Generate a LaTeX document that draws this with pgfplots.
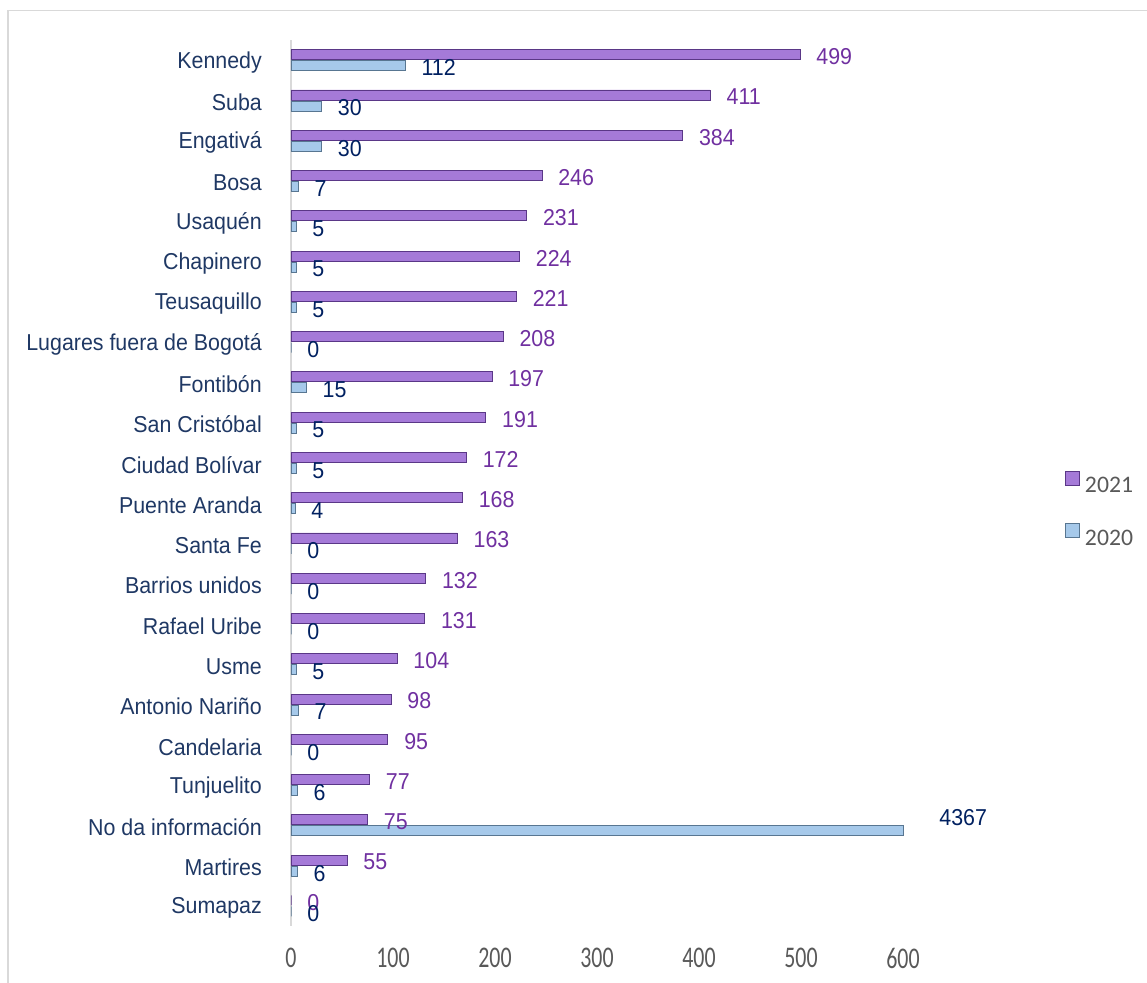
\documentclass[border=0pt]{standalone}
\usepackage{pgfplots}
\pgfplotsset{compat=1.18}
\usepackage{pgfplotstable}
\usepackage{fontspec}
\setmainfont{Liberation Sans}
\newfontfamily\catfont[FakeStretch=0.93]{Liberation Sans}
\newfontfamily\tickfont[FakeStretch=0.73]{Carlito}
\newfontfamily\legfont{Carlito}
\definecolor{catcol}{HTML}{1F3864}
\definecolor{lab21}{HTML}{7030A0}
\definecolor{lab20}{HTML}{002060}
\definecolor{p21}{HTML}{A57AD8}
\definecolor{p21edge}{HTML}{5A3787}
\definecolor{p20}{HTML}{A6C9EA}
\definecolor{p20edge}{HTML}{587691}
\definecolor{tickgray}{HTML}{595959}
\definecolor{axgray}{HTML}{D9D9D9}

\pgfplotstableread{
idx v21 v20 dx dy
0 499 112 0 0
1 411 30 0 0
2 384 30 0 0
3 246 7 0 0
4 231 5 0 0
5 224 5 0 0
6 221 5 0 0
7 208 0 0 0
8 197 15 0 0
9 191 5 0 0
10 172 5 0 0
11 168 4 0 0
12 163 0 0 0
13 132 0 0 0
14 131 0 0 0
15 104 5 0 0
16 98 7 0 0
17 95 0 0 0
18 77 6 0 0
19 75 4367 20 15
20 55 6 0 0
21 0 0 0 0
}\datatable

\begin{document}
\begin{tikzpicture}
\begin{axis}[
  scale only axis,
  width=612pt, height=886pt,
  xmin=0, xmax=600,
  ymin=-0.5, ymax=21.5,
  y dir=reverse,
  xbar, bar width=10pt,
  clip=false,
  axis lines*=left,
  x axis line style={draw=none},
  y axis line style={draw=axgray, line width=1.5pt, -},
  tick style={draw=none},
  major tick length=0pt,
  xtick={0,100,200,300,400,500,600},
  ytick={0,...,21},
  yticklabels={Kennedy,Suba,Engativá,Bosa,Usaquén,Chapinero,Teusaquillo,Lugares fuera de Bogotá,Fontibón,San Cristóbal,Ciudad Bolívar,Puente Aranda,Santa Fe,Barrios unidos,Rafael Uribe,Usme,Antonio Nariño,Candelaria,Tunjuelito,No da información,Martires,Sumapaz},
  yticklabel style={font=\catfont\fontsize{23}{27}\selectfont, text=catcol, inner sep=0pt, anchor=east, xshift=-29pt, yshift=-2pt},
  xticklabel style={font=\tickfont\fontsize{30}{34}\selectfont, text=tickgray, inner sep=0pt, anchor=north, yshift=-22pt},
  /pgf/number format/assume math mode=true,
  /pgf/number format/1000 sep={},
  nodes near coords,
  every node near coord/.append style={font=\catfont\fontsize{23}{27}\selectfont, anchor=west, inner sep=0pt, xshift=16pt, yshift=-2pt},
  legend style={draw=none, fill=none, inner sep=0pt, at={(1.2647,0.5139)}, anchor=north west,
     nodes={inner sep=0pt, font=\legfont\fontsize{23.7}{26}\selectfont, text=tickgray},
     row sep=29pt, column sep=5pt},
  legend cell align=left,
  legend image code/.code={\draw[#1, bar shift=0pt] (0pt,0.5pt) rectangle (14pt,14.5pt);},
]
\addplot[bar shift=5.5pt, fill=p21, draw=p21edge, line width=0.8pt,
  every node near coord/.append style={text=lab21}]
  table[x=v21, y=idx] {\datatable};
\addlegendentry{2021}
\addplot[bar shift=-5.5pt, fill=p20, draw=p20edge, line width=0.8pt,
  point meta=explicit,
  visualization depends on={\thisrow{dx} \as \ldx},
  visualization depends on={\thisrow{dy} \as \ldy},
  every node near coord/.append style={text=lab20, xshift=\ldx, yshift=\ldy}]
  table[x expr={min(\thisrow{v20},600)}, y=idx, meta=v20] {\datatable};
\addlegendentry{2020}
\end{axis}
\draw[axgray, line width=1.5pt] (-283pt,-60pt) -- (-283pt,915.5pt) -- (860pt,915.5pt);
\pgfresetboundingbox
\useasboundingbox (-291pt,-56pt) rectangle (856pt,926pt);
\end{tikzpicture}
\end{document}
